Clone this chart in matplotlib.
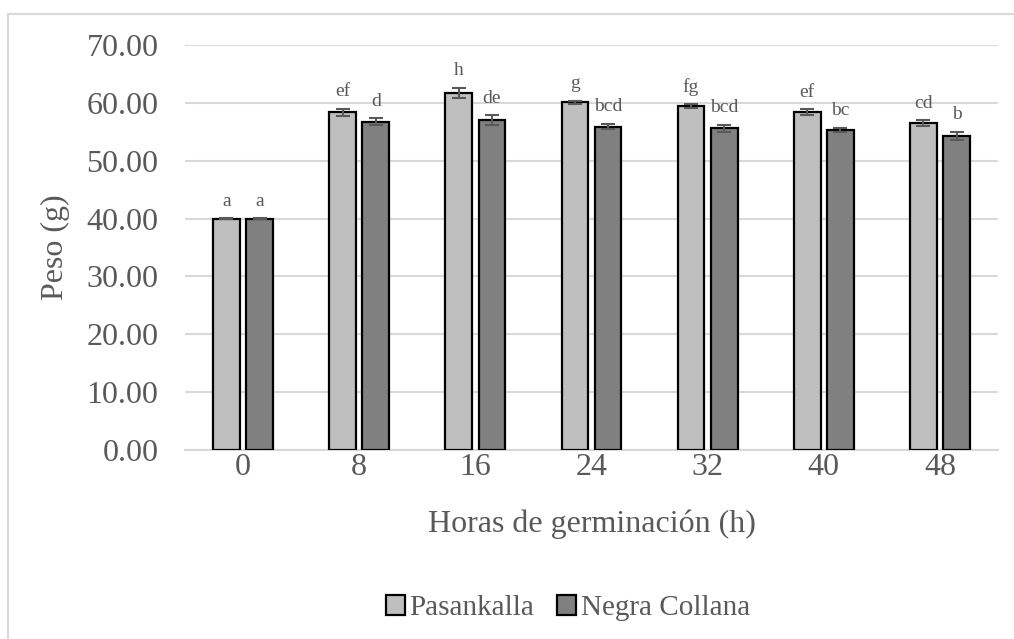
import numpy as np
import matplotlib
matplotlib.use('Agg')
import matplotlib.pyplot as plt
from matplotlib.lines import Line2D

plt.rcParams['font.family'] = ['Liberation Serif', 'DejaVu Serif']

horas = ['0', '8', '16', '24', '32', '40', '48']
pasankalla = [40.0, 58.4, 61.75, 60.1, 59.45, 58.4, 56.5]
pasankalla_err = [0.05, 0.6, 0.9, 0.3, 0.35, 0.5, 0.55]
negra = [40.0, 56.7, 57.0, 55.9, 55.6, 55.3, 54.3]
negra_err = [0.05, 0.6, 0.9, 0.5, 0.65, 0.4, 0.7]
letras_pas = ['a', 'ef', 'h', 'g', 'fg', 'ef', 'cd']
letras_neg = ['a', 'd', 'de', 'bcd', 'bcd', 'bc', 'b']

gris = '#595959'

fig = plt.figure(figsize=(10.14, 6.39), dpi=100)
ax = fig.add_axes([0.1824, 0.2958, 0.8018, 0.6338])

x = np.arange(len(horas))
w = 0.23
off = 0.143

b1 = ax.bar(x - off, pasankalla, w, color='#bfbfbf', edgecolor='black', linewidth=1.6,
            label='Pasankalla', zorder=3)
b2 = ax.bar(x + off, negra, w, color='#808080', edgecolor='black', linewidth=1.6,
            label='Negra Collana', zorder=3)
ax.errorbar(x - off, pasankalla, yerr=pasankalla_err, fmt='none', ecolor=gris,
            elinewidth=1.5, capsize=5, capthick=1.5, zorder=4)
ax.errorbar(x + off, negra, yerr=negra_err, fmt='none', ecolor=gris,
            elinewidth=1.5, capsize=5, capthick=1.5, zorder=4)

for i in range(len(horas)):
    ax.annotate(letras_pas[i], (x[i] - off, pasankalla[i] + pasankalla_err[i]),
                xytext=(0, 6), textcoords='offset points', ha='center', va='bottom',
                fontsize=14, color=gris)
    ax.annotate(letras_neg[i], (x[i] + off, negra[i] + negra_err[i]),
                xytext=(0, 6), textcoords='offset points', ha='center', va='bottom',
                fontsize=14, color=gris)

ax.set_xlim(-0.5, 6.5)
ax.set_ylim(0, 70)
ax.set_yticks(np.arange(0, 71, 10))
ax.set_yticklabels(['%.2f' % v for v in np.arange(0, 71, 10)])
ax.set_xticks(x)
ax.set_xticklabels(horas)
ax.grid(axis='y', color='#d9d9d9', linewidth=1.5, zorder=0)
ax.set_axisbelow(True)
for s in ['top', 'right', 'left']:
    ax.spines[s].set_visible(False)
ax.spines['bottom'].set_color('#d9d9d9')
ax.spines['bottom'].set_linewidth(1.5)
ax.tick_params(axis='both', length=0, labelsize=23, labelcolor=gris)
ax.tick_params(axis='y', pad=19)
ax.tick_params(axis='x', pad=2)

ax.set_ylabel('Peso (g)', fontsize=23, color=gris, labelpad=12)
ax.set_xlabel('Horas de germinación (h)', fontsize=23, color=gris, labelpad=20)

fig.legend(handles=[b1, b2], loc='center', bbox_to_anchor=(0.56, 0.048), ncol=2,
           frameon=False, fontsize=21, labelcolor=gris, handlelength=0.65,
           handleheight=0.65, handletextpad=0.15, columnspacing=0.8)

# borde del grafico
fig.add_artist(Line2D([8 / 1014, 8 / 1014], [0, 1 - 14 / 639], color='#d9d9d9', linewidth=1.5))
fig.add_artist(Line2D([8 / 1014, 1], [1 - 14 / 639, 1 - 14 / 639], color='#d9d9d9', linewidth=1.5))

plt.savefig('out.png', dpi=100)
